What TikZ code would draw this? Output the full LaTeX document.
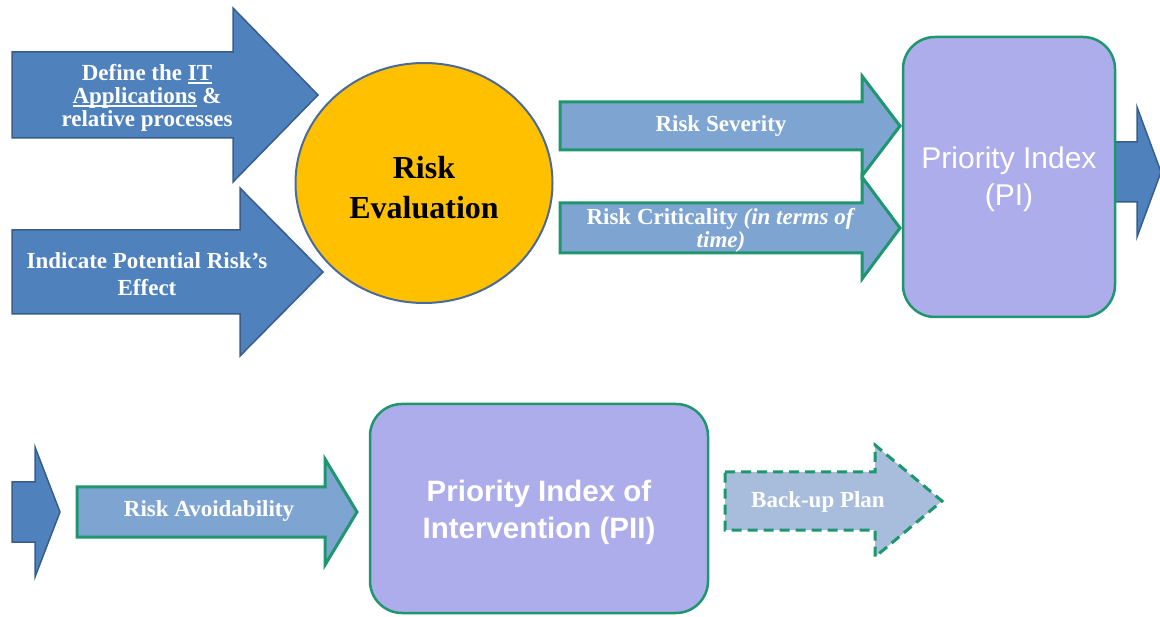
\documentclass[tikz,border=0pt]{standalone}
\usepackage{fontspec}
\setmainfont{Liberation Serif}
\setsansfont{Liberation Sans}
\usetikzlibrary{shapes.geometric}

\definecolor{stepblue}{HTML}{4F81BD}
\definecolor{stepblueline}{HTML}{385D8A}
\definecolor{factorblue}{HTML}{7EA5D1}
\definecolor{planblue}{HTML}{A7BDDB}
\definecolor{boxgreen}{HTML}{1E966E}
\definecolor{indexviolet}{HTML}{ADADEB}
\definecolor{evalgold}{HTML}{FFC000}
\definecolor{evalline}{HTML}{4A6A9A}

% block arrow: [style]{tail x}{head base x}{tip x}{mid y}{shaft half}{head half}
\newcommand{\blockarrow}[7][]{%
  \draw[#1] (#2,#5-#6) -- (#3,#5-#6) -- (#3,#5-#7) -- (#4,#5)
    -- (#3,#5+#7) -- (#3,#5+#6) -- (#2,#5+#6) -- cycle;}
% underlined words, with a heavier rule than \underline
\newcommand{\ulined}[1]{\setbox0\hbox{#1}\rlap{\rule[-3pt]{\wd0}{1.3pt}}\box0\relax}

\begin{document}
\begin{tikzpicture}[x=1pt, y=-1pt, line join=miter]
  \tikzset{
    input/.style={fill=stepblue, draw=stepblueline, line width=1.5pt},
    factor/.style={fill=factorblue, draw=boxgreen, line width=3pt},
    backup/.style={fill=planblue, draw=boxgreen, line width=3pt, dash pattern=on 10pt off 6pt},
    index/.style={rounded corners=32pt, fill=indexviolet, draw=boxgreen, line width=2.5pt},
    lbl/.style={text=white, align=center, font=\bfseries\fontsize{23}{23}\selectfont, inner sep=0pt},
    ilbl/.style={text=white, align=center, font=\sffamily\fontsize{30}{37}\selectfont, inner sep=0pt}
  }
  \clip (0,0) rectangle (1160,617);

  % inputs to the evaluation
  \node[ellipse, minimum width=257pt, minimum height=240pt, fill=evalgold, draw=evalline, line width=2pt] (eval) at (424,183) {};
  \node[align=center, font=\bfseries\fontsize{32}{40}\selectfont, inner sep=0pt] (evaltext) at (424,188) {Risk\\Evaluation};

  \blockarrow[input]{12}{233}{318}{95}{43}{87}
  \node[lbl] (define) at (147,98) {Define the \ulined{IT}\\\ulined{Applications} \&\\relative processes};
  \blockarrow[input]{12}{240}{323}{272}{42}{84}
  \node[lbl, font=\bfseries\fontsize{23}{27}\selectfont] (effect) at (147,274) {Indicate Potential Risk's\\Effect};

  % severity and criticality
  \blockarrow[factor]{560}{862}{900}{126}{24}{50}
  \node[lbl] (severity) at (721,126) {Risk Severity};
  \blockarrow[factor]{560}{862}{900}{228}{25}{51}
  \node[lbl] (critical) at (721,230) {Risk Criticality \textit{(in terms of}\\\textit{time)}};

  \blockarrow[input]{1100}{1137}{1161}{172}{30}{65}
  \draw[index] (903,37) rectangle (1115,317);
  \node[ilbl] (pi) at (1009,179) {Priority Index\\(PI)};

  % second row
  \blockarrow[input]{12}{35}{60}{512}{30}{65}
  \blockarrow[factor]{77}{325}{357}{512}{25}{53}
  \node[lbl] (avoid) at (209,511) {Risk Avoidability};

  \draw[index] (370,404) rectangle (708,613);
  \node[ilbl, font=\sffamily\bfseries\fontsize{29.5}{37}\selectfont] (pii) at (539,512) {Priority Index of\\Intervention (PII)};

  \blockarrow[backup]{725}{875}{942}{501}{29}{56}
  \node[lbl] (backplan) at (818,502) {Back-up Plan};
\end{tikzpicture}
\end{document}
